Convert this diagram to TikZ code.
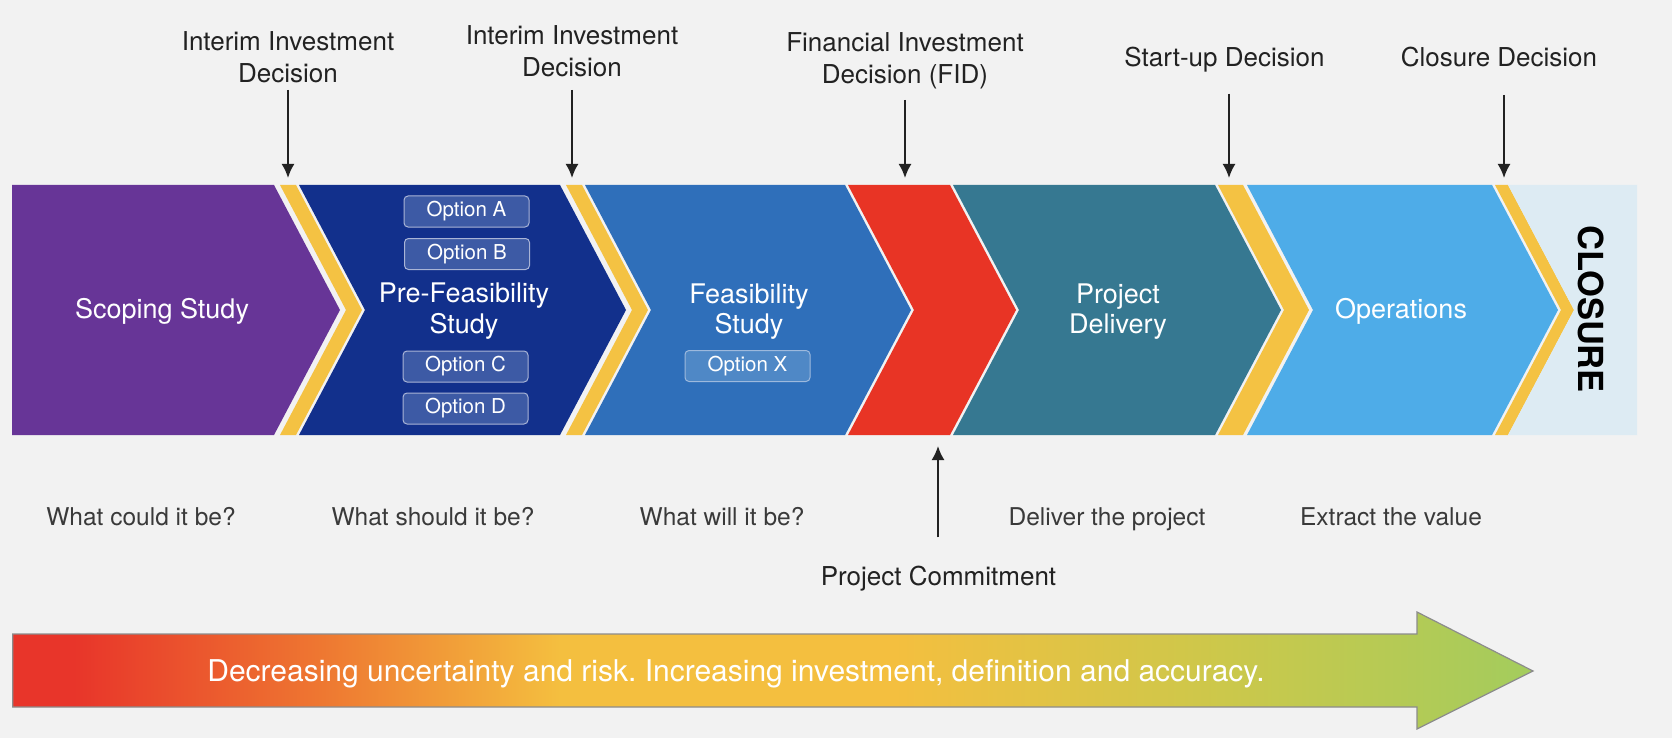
\documentclass[tikz,border=0pt]{standalone}
\usepackage{fontspec}
\setmainfont{TeX Gyre Heros}
\usetikzlibrary{arrows.meta}
\frenchspacing

\definecolor{bgcol}{HTML}{F2F2F2}
\definecolor{scopecol}{HTML}{673597}
\definecolor{prefeascol}{HTML}{12308C}
\definecolor{feascol}{HTML}{2F6FBA}
\definecolor{fidcol}{HTML}{E83425}
\definecolor{delivcol}{HTML}{367891}
\definecolor{opscol}{HTML}{4EACE8}
\definecolor{gatecol}{HTML}{F4C243}
\definecolor{closecol}{HTML}{DDEBF3}
\definecolor{optcol}{HTML}{3D5AA5}
\definecolor{optedge}{HTML}{A9B4D6}
\definecolor{optxcol}{HTML}{4F88C6}
\definecolor{optxedge}{HTML}{9DB9DD}
\definecolor{inkcol}{HTML}{222222}
\definecolor{notecol}{HTML}{3A3A3A}
\definecolor{riskedge}{HTML}{8C8C8C}
\definecolor{riskA}{HTML}{E8352A}
\definecolor{riskB}{HTML}{EE7631}
\definecolor{riskC}{HTML}{F4BF3F}
\definecolor{riskD}{HTML}{CBC84B}
\definecolor{riskE}{HTML}{A3CC5D}

\pgfdeclarehorizontalshading{riskshade}{100bp}{color(0bp)=(riskA); color(27bp)=(riskA); color(35bp)=(riskB); color(43bp)=(riskC); color(54bp)=(riskC); color(65bp)=(riskD); color(75bp)=(riskE); color(100bp)=(riskE)}

% one chevron of the band: colour, top left x, top right x
\newcommand{\stagechev}[3]{\fill[#1] (#2,185) -- (#3,185) -- ++(66,125) -- (#3,435) -- (#2,435) -- ++(66,-125) -- cycle;}

\tikzset{
  stagelbl/.style={text=white, align=center, inner sep=0pt, font=\fontsize{27}{30.4}\selectfont},
  optbox/.style={draw=optedge, fill=optcol, line width=1pt, rounded corners=4pt, minimum width=125pt, minimum height=31pt, inner sep=0pt, text=white, font=\fontsize{20.5}{24}\selectfont},
  declbl/.style={text=inkcol, align=center, inner sep=0pt, font=\fontsize{26}{32.5}\selectfont},
  notetext/.style={text=notecol, inner sep=0pt, font=\fontsize{24.5}{30}\selectfont},
  decarrow/.style={draw=inkcol, line width=2pt, -{Latex[length=14pt,width=13pt]}},
}

\begin{document}
\begin{tikzpicture}[x=1pt, y=-1pt]
  % background
  \fill[bgcol] (0,0) rectangle (1672,738);
  \useasboundingbox (0,0) rectangle (1672,738);

  % band of stages
  \fill[scopecol] (12,185) -- (274,185) -- (340,310) -- (274,435) -- (12,435) -- cycle;
  \stagechev{gatecol}{280}{296}
  \stagechev{prefeascol}{299}{560}
  \stagechev{gatecol}{566}{582}
  \stagechev{feascol}{585}{845}
  \stagechev{fidcol}{848}{950}
  \stagechev{delivcol}{953}{1215}
  \stagechev{gatecol}{1218}{1243}
  \stagechev{opscol}{1247}{1492}
  \stagechev{gatecol}{1495}{1508}
  \fill[closecol] (1508,185) -- (1637,185) -- (1637,435) -- (1508,435) -- (1574,310) -- cycle;

  % stage labels
  \node[stagelbl, anchor=base] (scoping) at (162,318.3) {Scoping Study};
  \node[stagelbl, anchor=south] (prefeas) at (464,339.4) {Pre-Feasibility\\Study};
  \node[optbox] (optA) at (466.5,211.5) {Option A};
  \node[optbox] (optB) at (467,254) {Option B};
  \node[optbox] (optC) at (465.5,366.5) {Option C};
  \node[optbox] (optD) at (465.5,408.5) {Option D};
  \node[stagelbl, anchor=south] (feas) at (749,339.6) {Feasibility\\Study};
  \node[optbox, fill=optxcol, draw=optxedge] (optX) at (747.5,366) {Option X};
  \node[stagelbl, anchor=south] (deliv) at (1118,339.6) {Project\\Delivery};
  \node[stagelbl, anchor=base] (ops) at (1401,318.3) {Operations};
  \node[rotate=-90, inner sep=0pt, text=black, font=\bfseries\fontsize{34.5}{34.5}\selectfont] (closure) at (1591.5,309) {CLOSURE};

  % decisions
  \node[declbl, anchor=south] (iid1) at (288,83.3) {Interim Investment\\Decision};
  \node[declbl, anchor=south] (iid2) at (572,77.3) {Interim Investment\\Decision};
  \node[declbl, anchor=south] (fid) at (905,89.3) {Financial Investment\\Decision (FID)};
  \node[declbl, anchor=base] (startup) at (1224.5,66.7) {Start-up Decision};
  \node[declbl, anchor=base] (closedec) at (1499,66.7) {Closure Decision};
  \coordinate (gate1) at (288,178);
  \coordinate (gate2) at (572,178);
  \coordinate (gate3) at (905,178);
  \coordinate (gate4) at (1229,178);
  \coordinate (gate5) at (1504,178);
  \draw[decarrow, shorten <=6.7pt] (iid1.south) -- (gate1);
  \draw[decarrow, shorten <=12.7pt] (iid2.south) -- (gate2);
  \draw[decarrow, shorten <=10.7pt] (fid.south) -- (gate3);
  \draw[decarrow, shorten <=21pt] (startup.south -| gate4) -- (gate4);
  \draw[decarrow, shorten <=27.6pt] (closedec.south -| gate5) -- (gate5);

  % commitment
  \node[declbl, anchor=base] (commit) at (938.5,585) {Project Commitment};
  \coordinate (gate6) at (938,446);
  \draw[decarrow, shorten <=28pt] (commit.north -| gate6) -- (gate6);

  % questions
  \node[notetext, anchor=base] (q1) at (141,525) {What could it be?};
  \node[notetext, anchor=base] (q2) at (433,525) {What should it be?};
  \node[notetext, anchor=base] (q3) at (722,525) {What will it be?};
  \node[notetext, anchor=base] (q4) at (1107,525) {Deliver the project};
  \node[notetext, anchor=base] (q5) at (1391,525) {Extract the value};

  % big arrow
  \shade[shading=riskshade, draw=riskedge, line width=1.2pt] (12.7,634) -- (1417,634) -- (1417,612) -- (1533,671) -- (1417,729) -- (1417,707) -- (12.7,707) -- cycle;
  \node[anchor=base, inner sep=0pt, text=white, font=\fontsize{30}{30}\selectfont] (risk) at (736,681.7) {Decreasing uncertainty and risk. Increasing investment, definition and accuracy.};
\end{tikzpicture}
\end{document}
